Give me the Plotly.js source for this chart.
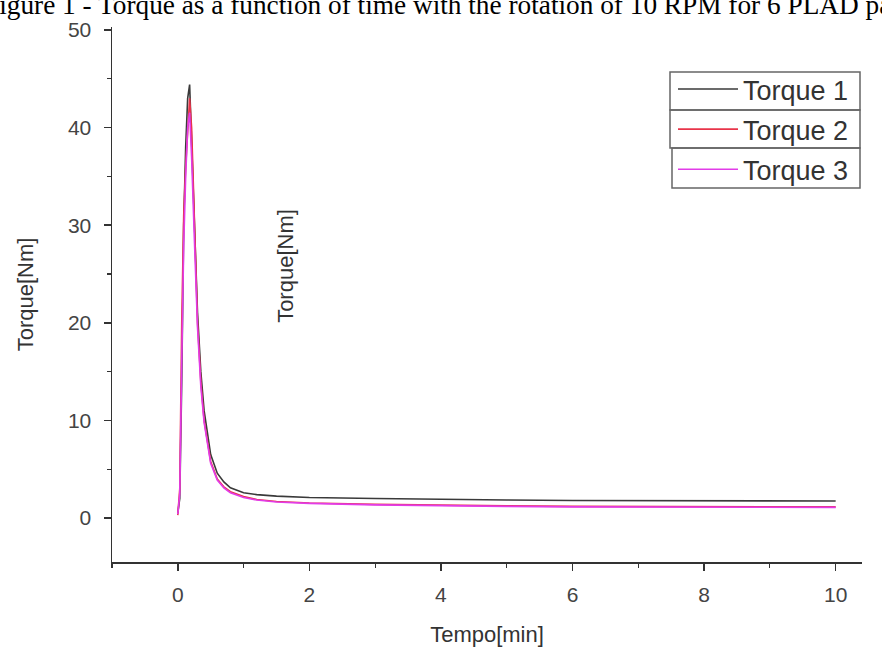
<!DOCTYPE html>
<html>
<head>
<meta charset="utf-8">
<script src="https://cdn.plot.ly/plotly-3.0.1.min.js"></script>
<style>html,body{margin:0;padding:0;background:#fff;}#chart{width:882px;height:650px;}</style>
</head>
<body>
<div id="chart"></div>
<script>
// Data
const t1x = [0, 0.03, 0.06, 0.09, 0.12, 0.15, 0.18, 0.21, 0.25, 0.3, 0.35, 0.4, 0.5, 0.6, 0.7, 0.8, 1.0, 1.2, 1.5, 2, 3, 4, 5, 6, 7, 8, 9, 10];
const t1y = [0.5, 2, 14, 30, 38, 43, 44.4, 38, 30, 21, 15, 11, 6.5, 4.6, 3.7, 3.1, 2.6, 2.4, 2.25, 2.1, 2.0, 1.9, 1.85, 1.8, 1.8, 1.8, 1.75, 1.75];
const t2x = [0, 0.03, 0.06, 0.09, 0.12, 0.15, 0.18, 0.21, 0.25, 0.3, 0.35, 0.4, 0.5, 0.6, 0.7, 0.8, 1.0, 1.2, 1.5, 2, 3, 4, 5, 6, 7, 8, 9, 10];
const t2y = [0.3, 3, 20, 31, 36, 40, 43, 40, 30, 20, 14, 10, 5.8, 4.0, 3.2, 2.7, 2.2, 1.9, 1.7, 1.55, 1.4, 1.3, 1.25, 1.2, 1.2, 1.2, 1.2, 1.15];
const t3x = [0, 0.03, 0.06, 0.09, 0.12, 0.15, 0.18, 0.21, 0.25, 0.3, 0.35, 0.4, 0.5, 0.6, 0.7, 0.8, 1.0, 1.2, 1.5, 2, 3, 4, 5, 6, 7, 8, 9, 10];
const t3y = [0.4, 2.5, 16, 28, 35, 40, 41.5, 37, 29, 19.5, 13.5, 9.8, 5.6, 3.9, 3.1, 2.6, 2.1, 1.85, 1.65, 1.5, 1.35, 1.25, 1.2, 1.15, 1.15, 1.1, 1.1, 1.1];
const seriesNames = ["Torque 1", "Torque 2", "Torque 3"];
const xTicks = [0, 2, 4, 6, 8, 10];
const yTicks = [0, 10, 20, 30, 40, 50];

const colors = ["#3a3a3a", "#e8344a", "#e23ce8"];
const traces = [[t1x, t1y], [t2x, t2y], [t3x, t3y]].map((d, i) => ({
  x: d[0], y: d[1], type: "scatter", mode: "lines", name: seriesNames[i],
  legendgroup: "g" + i,
  line: {color: colors[i], width: 1.6}
}));

// plot area in pixels: x 112..862, y 27..562
const L = 112, R = 862, T = 27, B = 562;
const px = v => (v - L) / (R - L);
const py = v => (B - v) / (B - T);
const boxes = [[670, 72, 860, 110], [670, 110, 860, 148], [672, 148, 860, 188]];
const shapes = boxes.map(b => ({
  type: "rect", xref: "paper", yref: "paper",
  x0: px(b[0]), x1: px(b[2]), y0: py(b[3]), y1: py(b[1]),
  line: {color: "#666", width: 1.5}, fillcolor: "rgba(0,0,0,0)", layer: "above"
}));

const sans = "Liberation Sans, Arial, sans-serif";
const axisFont = {family: sans, size: 21, color: "#444"};
const layout = {
  width: 882, height: 650,
  margin: {l: L, r: 882 - R, t: T, b: 650 - B},
  paper_bgcolor: "#fff", plot_bgcolor: "#fff",
  showlegend: true,
  legend: {
    x: px(673), y: py(65), xanchor: "left", yanchor: "top",
    bgcolor: "rgba(0,0,0,0)", borderwidth: 0,
    font: {family: sans, size: 27, color: "#333"},
    tracegroupgap: 2, itemwidth: 60
  },
  shapes: shapes,
  xaxis: {
    range: [-1, 10.4], tickvals: xTicks, ticktext: xTicks.map(String),
    showgrid: false, zeroline: false, showline: true, linecolor: "#333", linewidth: 1.5,
    ticks: "outside", ticklen: 7, tickcolor: "#333", tickwidth: 1.5,
    minor: {dtick: 1, tick0: 0, ticks: "outside", ticklen: 4, tickcolor: "#333", tickwidth: 1.2, showgrid: false},
    tickfont: axisFont, ticklabelstandoff: 6,
    title: {text: "Tempo[min]", font: {family: sans, size: 22, color: "#333"}, standoff: 22}
  },
  yaxis: {
    range: [-4.5, 50.3], tickvals: yTicks, ticktext: yTicks.map(String),
    showgrid: false, zeroline: false, showline: true, linecolor: "#333", linewidth: 1.5,
    ticks: "outside", ticklen: 7, tickcolor: "#333", tickwidth: 1.5,
    minor: {dtick: 5, tick0: 0, ticks: "outside", ticklen: 4, tickcolor: "#333", tickwidth: 1.2, showgrid: false},
    tickfont: axisFont, ticklabelstandoff: 8,
    title: {text: "Torque[Nm]", font: {family: sans, size: 22, color: "#333"}, standoff: 28}
  },
  annotations: [
    {text: "Figure 1 - Torque as a function of time with the rotation of 10 RPM for 6 PLAD pa",
     xref: "paper", yref: "paper", x: px(-18), y: py(5), xanchor: "left", yanchor: "middle",
     showarrow: false, font: {family: "Liberation Serif, Times New Roman, serif", size: 27.3, color: "#000"}},
    {text: "Torque[Nm]", xref: "x", yref: "y", x: 1.64, y: 25.8, textangle: -90,
     showarrow: false, font: {family: sans, size: 22, color: "#333"}}
  ]
};
Plotly.newPlot("chart", traces, layout, {displayModeBar: false, staticPlot: true});
</script>
</body>
</html>
